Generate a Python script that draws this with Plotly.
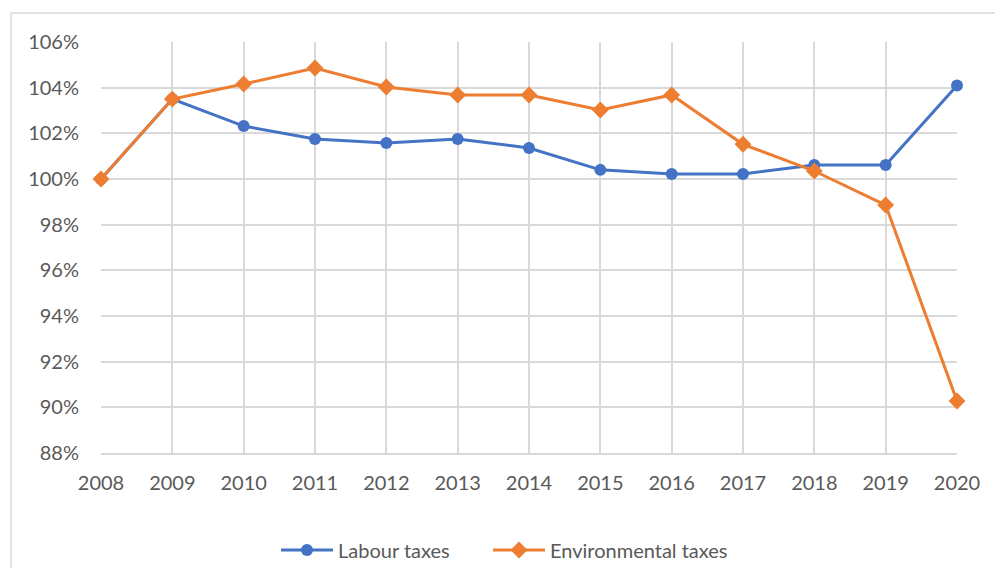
import plotly.graph_objects as go

years = [2008, 2009, 2010, 2011, 2012, 2013, 2014, 2015, 2016, 2017, 2018, 2019, 2020]
labour = [100.0, 103.5, 102.32, 101.75, 101.58, 101.75, 101.36, 100.4, 100.22, 100.22, 100.61, 100.61, 104.09]
environmental = [100.0, 103.5, 104.16, 104.86, 104.03, 103.68, 103.68, 103.02, 103.68, 101.52, 100.35, 98.86, 90.28]
y_ticks = [88, 90, 92, 94, 96, 98, 100, 102, 104, 106]

fig = go.Figure()
fig.add_trace(go.Scatter(x=years, y=labour, name="Labour taxes", mode="lines+markers",
                         line=dict(color="#4472C4", width=3), cliponaxis=False, legend="legend",
                         marker=dict(symbol="circle", size=12, color="#4472C4")))
fig.add_trace(go.Scatter(x=years, y=environmental, name="Environmental taxes", mode="lines+markers",
                         line=dict(color="#ED7D31", width=3), cliponaxis=False, legend="legend2",
                         marker=dict(symbol="diamond", size=13, color="#ED7D31")))

grid = "#d9d9d9"
legend_common = dict(orientation="h", xanchor="left", yref="container", xref="container",
                     y=(568 - 550) / 568, yanchor="middle",
                     font=dict(size=20, color="#595959"), itemwidth=52, bgcolor="rgba(0,0,0,0)")
fig.update_layout(
    width=995, height=568,
    margin=dict(l=101, r=38, t=42, b=115, autoexpand=False),
    paper_bgcolor="white", plot_bgcolor="white",
    font=dict(family="Lato, Open Sans, sans-serif", size=20, color="#595959"),
    xaxis=dict(range=[2008, 2020], tickmode="array", tickvals=years, ticktext=[str(y) for y in years],
               showgrid=True, gridcolor=grid, gridwidth=1.5, zeroline=False, automargin=False,
               showline=True, linecolor=grid, linewidth=1.5, ticks="", ticklabelstandoff=11,
               tickfont=dict(size=20)),
    yaxis=dict(range=[88, 106], tickmode="array", tickvals=y_ticks, ticktext=[f"{v}%" for v in y_ticks],
               showgrid=True, gridcolor=grid, gridwidth=1.5, zeroline=False, automargin=False,
               showline=False, ticks="", ticklabelstandoff=21, tickfont=dict(size=20)),
    legend=dict(x=276 / 995, **legend_common),
    legend2=dict(x=488 / 995, **legend_common),
    shapes=[dict(type="rect", xref="paper", yref="paper", x0=-0.1051, x1=1.2, y0=-0.6, y1=1.0706,
                 line=dict(color=grid, width=1.5), fillcolor="rgba(0,0,0,0)", layer="below")],
    showlegend=True,
)

fig.write_html("out.html")
